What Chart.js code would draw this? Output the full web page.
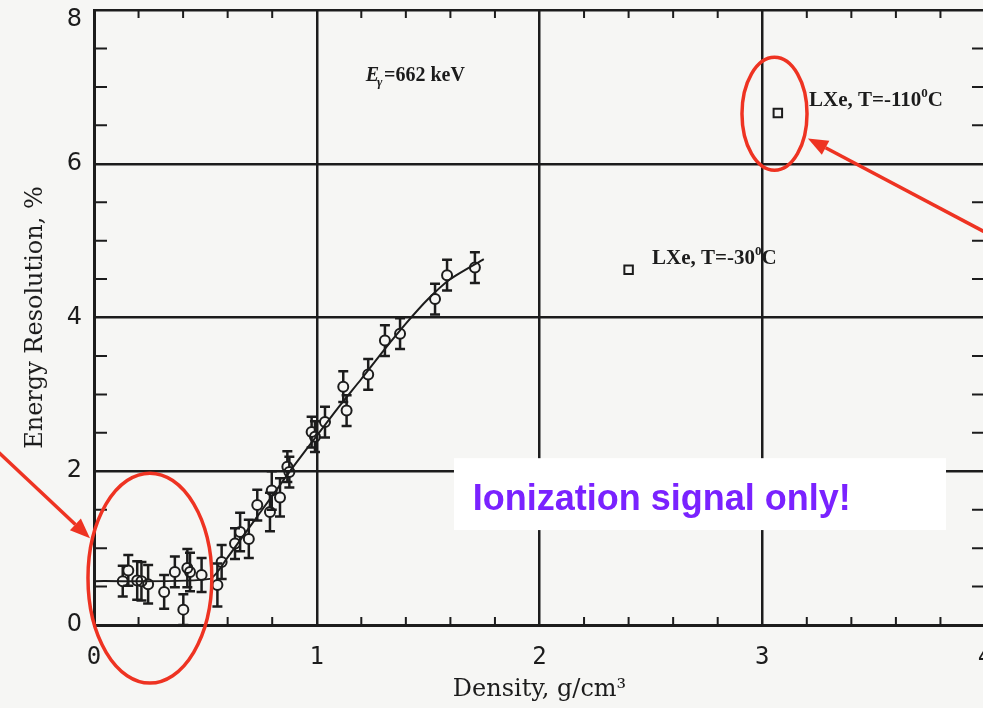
<!DOCTYPE html>
<html>
<head>
<meta charset="utf-8">
<script src="https://cdn.jsdelivr.net/npm/chart.js@4"></script>
<style>
  html, body { margin: 0; padding: 0; overflow: hidden; background: #f6f6f4; }
  #wrap { width: 1000px; height: 708px; position: relative; }
</style>
</head>
<body>
<div id="wrap"><canvas id="graph"></canvas></div>
<script>
// measured points (density g/cm3, resolution %, error)
var density = [0.129, 0.154, 0.194, 0.213, 0.243, 0.315, 0.363, 0.401, 0.419, 0.431, 0.483,
               0.554, 0.573, 0.633, 0.656, 0.695, 0.733, 0.790, 0.798, 0.835, 0.868, 0.877,
               0.977, 0.992, 1.037, 1.119, 1.134, 1.231, 1.306, 1.374, 1.531, 1.585, 1.710];
var resolution = [0.57, 0.71, 0.58, 0.57, 0.53, 0.43, 0.69, 0.20, 0.74, 0.69, 0.65,
                  0.52, 0.82, 1.06, 1.21, 1.12, 1.56, 1.47, 1.75, 1.66, 2.06, 1.99,
                  2.51, 2.45, 2.64, 3.10, 2.79, 3.26, 3.70, 3.79, 4.24, 4.55, 4.65];
var errors = [0.2, 0.2, 0.25, 0.25, 0.25, 0.22, 0.2, 0.2, 0.25, 0.25, 0.22,
              0.28, 0.22, 0.2, 0.25, 0.25, 0.2, 0.25, 0.25, 0.25, 0.2, 0.2,
              0.2, 0.2, 0.2, 0.2, 0.2, 0.2, 0.2, 0.2, 0.2, 0.2, 0.2];

// fitted curve through the gas data
var fitDensity = [0, 0.52, 0.6, 0.7, 0.8, 0.9, 1.0, 1.1, 1.2, 1.3, 1.4, 1.5, 1.6, 1.75];
var fitRes = [0.57, 0.6, 0.88, 1.28, 1.68, 2.08, 2.46, 2.84, 3.2, 3.57, 3.92, 4.24, 4.5, 4.76];

// liquid xenon points
var lxeDensity = [3.07, 2.40];
var lxeRes = [6.66, 4.62];
var lxeLabels = ['LXe, T=-110', 'LXe, T=-30'];

var xTicks = [0, 1, 2, 3, 4];
var yTicks = [0, 2, 4, 6, 8];

var RED = '#ee3322';
var INK = '#1c1c1c';

function pts(xs, ys) {
    var out = [];
    for (var i = 0; i < xs.length; i++) out.push({x: xs[i], y: ys[i]});
    return out;
}

// minor ticks, error bars and the slide annotations
var overlay = {
    id: 'overlay',
    beforeDatasetsDraw: function (chart) {
        var c = chart.ctx, xs = chart.scales.x, ys = chart.scales.y, a = chart.chartArea;
        c.save();
        c.strokeStyle = INK;
        c.lineWidth = 2;
        for (var v = 0.2; v < 4; v += 0.2) {
            if (Math.abs(v - Math.round(v)) < 0.01) continue;
            var px = xs.getPixelForValue(v);
            c.beginPath();
            c.moveTo(px, a.bottom); c.lineTo(px, a.bottom - 8);
            c.moveTo(px, a.top); c.lineTo(px, a.top + 8);
            c.stroke();
        }
        for (var w = 0.5; w < 8; w += 0.5) {
            if (w % 2 === 0) continue;
            var py = ys.getPixelForValue(w);
            c.beginPath();
            c.moveTo(a.left, py); c.lineTo(a.left + 13, py);
            c.moveTo(a.right, py); c.lineTo(a.right - 13, py);
            c.stroke();
        }
        c.restore();
    },
    afterDatasetsDraw: function (chart) {
        var c = chart.ctx, xs = chart.scales.x, ys = chart.scales.y;
        function X(v) { return xs.getPixelForValue(v); }
        function Y(v) { return ys.getPixelForValue(v); }
        c.save();

        // error bars
        c.strokeStyle = INK;
        c.lineWidth = 2.5;
        for (var i = 0; i < density.length; i++) {
            var px = X(density[i]);
            var hi = Y(resolution[i] + errors[i]), lo = Y(resolution[i] - errors[i]);
            c.beginPath();
            c.moveTo(px, hi); c.lineTo(px, Y(resolution[i]) - 5);
            c.moveTo(px, Y(resolution[i]) + 5); c.lineTo(px, lo);
            c.moveTo(px - 5, hi); c.lineTo(px + 5, hi);
            c.moveTo(px - 5, lo); c.lineTo(px + 5, lo);
            c.stroke();
        }

        // text labels
        c.fillStyle = INK;
        c.textBaseline = 'middle';
        c.font = 'italic bold 20px "Liberation Serif"';
        var ex = X(1.22), ey = Y(7.14);
        c.fillText('E', ex, ey);
        var ew = c.measureText('E').width;
        c.font = 'italic bold 13px "Liberation Serif"';
        c.fillText('\u03b3', ex + ew - 2, ey + 7);
        c.font = 'bold 20px "Liberation Serif"';
        c.fillText('=662 keV', ex + ew + 5, ey);

        var labelPos = [[3.21, 6.82], [2.505, 4.77]];
        for (var k = 0; k < lxeLabels.length; k++) {
            var lx = X(labelPos[k][0]), ly = Y(labelPos[k][1]);
            c.font = 'bold 21px "Liberation Serif"';
            c.fillText(lxeLabels[k], lx, ly);
            var tw = c.measureText(lxeLabels[k]).width;
            c.font = 'bold 13px "Liberation Serif"';
            c.fillText('0', lx + tw, ly - 7);
            var sw = c.measureText('0').width;
            c.font = 'bold 21px "Liberation Serif"';
            c.fillText('C', lx + tw + sw, ly);
        }

        // white call-out box
        c.fillStyle = '#ffffff';
        c.fillRect(X(1.616), Y(2.17), X(3.825) - X(1.616), Y(1.235) - Y(2.17));
        c.fillStyle = '#7a22ff';
        c.textBaseline = 'alphabetic';
        c.font = 'bold 36px "Liberation Sans"';
        c.fillText('Ionization signal only!', X(1.70), Y(1.49));

        // red ellipses
        c.strokeStyle = RED;
        c.lineWidth = 3.5;
        function ellipse(cx, cy, rx, ry) {
            c.beginPath();
            c.ellipse(X(cx), Y(cy), X(cx + rx) - X(cx), Y(cy) - Y(cy + ry), 0, 0, Math.PI * 2);
            c.stroke();
        }
        ellipse(0.251, 0.61, 0.278, 1.365);
        ellipse(3.055, 6.65, 0.146, 0.735);

        // red arrows
        function arrow(x0, y0, x1, y1) {
            var ax = X(x0), ay = Y(y0), bx = X(x1), by = Y(y1);
            var ang = Math.atan2(by - ay, bx - ax);
            var L = 20, H = 8;
            var sx = bx - L * Math.cos(ang), sy = by - L * Math.sin(ang);
            c.beginPath();
            c.moveTo(ax, ay); c.lineTo(sx, sy);
            c.stroke();
            c.beginPath();
            c.moveTo(bx, by);
            c.lineTo(sx + H * Math.sin(ang), sy - H * Math.cos(ang));
            c.lineTo(sx - H * Math.sin(ang), sy + H * Math.cos(ang));
            c.closePath();
            c.fillStyle = RED;
            c.fill();
        }
        arrow(-0.43, 2.25, -0.018, 1.13);
        arrow(4.0, 5.11, 3.205, 6.33);

        c.restore();
    }
};

var ctx = document.getElementById('graph').getContext('2d');
var chart = new Chart(ctx, {
    type: 'scatter',
    data: {
        datasets: [
            {
                type: 'line',
                data: pts(fitDensity, fitRes),
                borderColor: INK,
                borderWidth: 2,
                pointRadius: 0,
                fill: false,
                tension: 0.2
            },
            {
                data: pts(density, resolution),
                pointStyle: 'circle',
                pointRadius: 5,
                borderColor: INK,
                borderWidth: 2,
                backgroundColor: 'rgba(0,0,0,0)'
            },
            {
                data: pts(lxeDensity, lxeRes),
                pointStyle: 'rect',
                pointRadius: 6,
                borderColor: INK,
                borderWidth: 2,
                backgroundColor: 'rgba(0,0,0,0)'
            }
        ]
    },
    options: {
        responsive: true,
        maintainAspectRatio: false,
        animation: false,
        layout: { padding: 0 },
        plugins: { legend: { display: false }, tooltip: { enabled: false } },
        scales: {
            x: {
                type: 'linear', min: 0, max: 4,
                afterBuildTicks: function (s) { s.ticks = xTicks.map(function (v) { return {value: v}; }); },
                afterFit: function (s) { s.height = 83; s.paddingLeft = 0; s.paddingRight = 15; },
                ticks: { color: INK, padding: 18, font: { family: 'DejaVu Sans Mono', size: 24 } },
                grid: { color: INK, lineWidth: 2.5, drawTicks: false },
                border: { color: INK, width: 3 },
                title: {
                    display: true, text: 'Density, g/cm\u00b3', color: INK,
                    font: { family: 'DejaVu Serif', size: 24 }, padding: { bottom: 4 }
                }
            },
            y: {
                type: 'linear', min: 0, max: 8,
                afterBuildTicks: function (s) { s.ticks = yTicks.map(function (v) { return {value: v}; }); },
                afterFit: function (s) { s.width = 94; s.paddingTop = 10; s.paddingBottom = 0; },
                ticks: {
                    color: INK, padding: 12,
                    // the top label sits just below the frame, as in the scan
                    callback: function (v) { return v === 8 ? ['', '8'] : String(v); },
                    font: function (c) {
                        return { family: 'DejaVu Sans', size: 24, lineHeight: c.tick && c.tick.value === 8 ? 0.85 : 1.2 };
                    }
                },
                grid: { color: INK, lineWidth: 2.5, drawTicks: false },
                border: { color: INK, width: 3 },
                title: {
                    display: true, text: 'Energy Resolution, %', color: INK,
                    font: { family: 'DejaVu Serif', size: 24 }, padding: { top: 21 }
                }
            }
        }
    },
    plugins: [overlay]
});
</script>
</body>
</html>
